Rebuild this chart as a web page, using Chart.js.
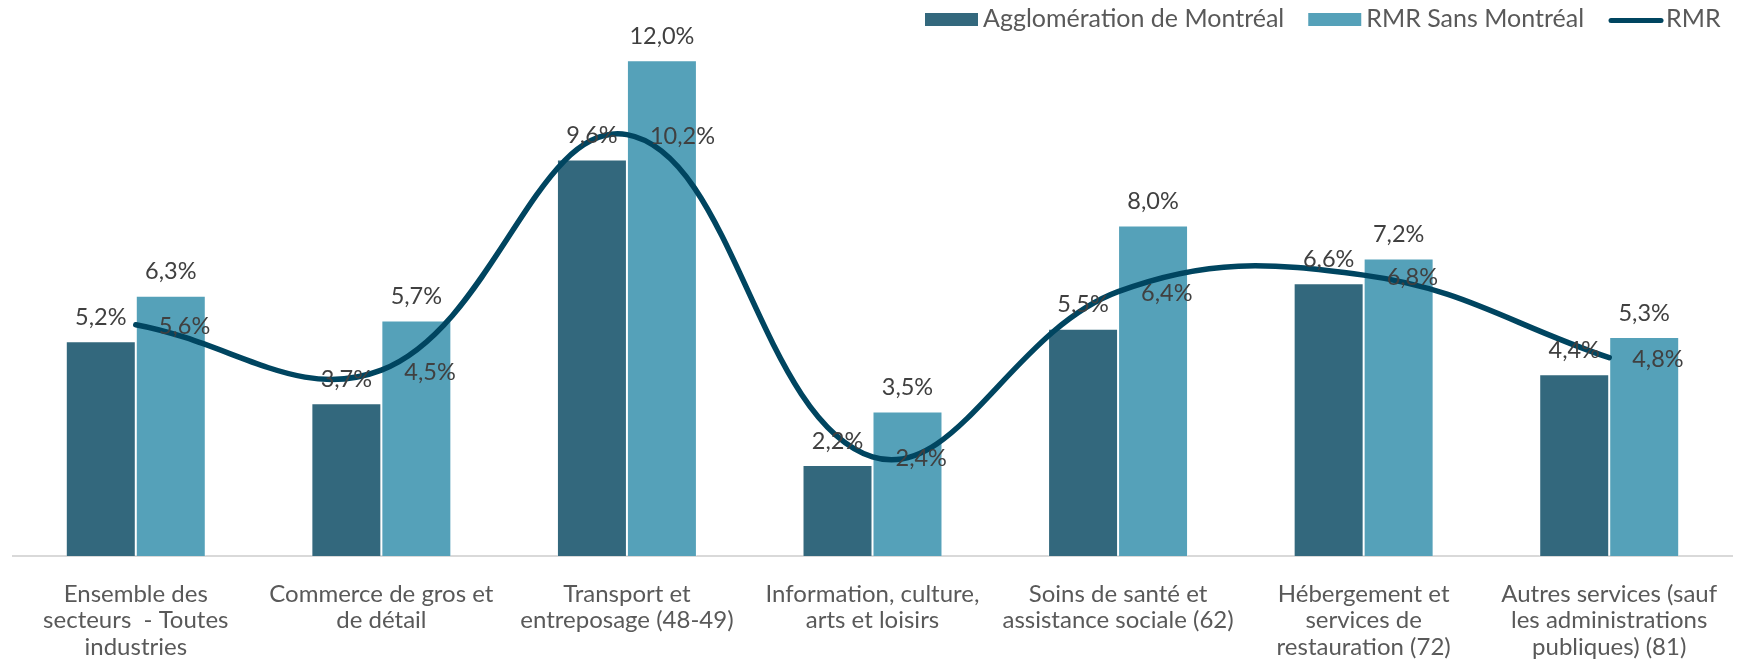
<!DOCTYPE html>
<html lang="fr">
<head>
<meta charset="UTF-8">
<title>Emploi par secteur - Montréal</title>
<script src="https://cdn.jsdelivr.net/npm/chart.js"></script>
<style>
  html, body { margin: 0; padding: 0; background: #fff; }
  #wrap { width: 1742px; height: 660px; position: relative; }
</style>
</head>
<body>
<div id="wrap"><canvas id="chart"></canvas></div>
<script>
// secteurs (libellés sur plusieurs lignes)
const categories = [
  ['Ensemble des', 'secteurs  - Toutes', 'industries'],
  ['Commerce de gros et', 'de détail'],
  ['Transport et', 'entreposage (48-49)'],
  ['Information, culture,', 'arts et loisirs'],
  ['Soins de santé et', 'assistance sociale (62)'],
  ['Hébergement et', 'services de', 'restauration (72)'],
  ['Autres services (sauf', 'les administrations', 'publiques) (81)']
];
const seriesNames = ['Agglomération de Montréal', 'RMR Sans Montréal', 'RMR'];
const agglo = [5.2, 3.7, 9.6, 2.2, 5.5, 6.6, 4.4];
const rmrSansMtl = [6.3, 5.7, 12.0, 3.5, 8.0, 7.2, 5.3];
const rmr = [5.6, 4.5, 10.2, 2.4, 6.4, 6.8, 4.8];

const colors = ['#33687d', '#55a1b9', '#004560'];
const FONT = 'Lato, "Liberation Sans", sans-serif';

const fmt = v => v.toFixed(1).replace('.', ',') + '%';

// étiquettes de valeur : au-dessus des barres, à droite des points de la courbe
const valueLabels = {
  id: 'valueLabels',
  afterDatasetsDraw(chart) {
    const ctx = chart.ctx;
    ctx.save();
    ctx.font = '23.5px ' + FONT;
    ctx.fillStyle = '#404040';
    ctx.textBaseline = 'middle';
    chart.data.datasets.forEach((ds, i) => {
      const meta = chart.getDatasetMeta(i);
      meta.data.forEach((el, j) => {
        const txt = fmt(ds.data[j]);
        if (meta.type === 'line') {
          ctx.textAlign = 'left';
          ctx.fillText(txt, el.x + 23, el.y + 2);
        } else {
          ctx.textAlign = 'center';
          ctx.fillText(txt, el.x, el.y - 24);
        }
      });
    });
    ctx.restore();
  }
};

// légende en haut à droite, dans l'ordre des séries
const topLegend = {
  id: 'topLegend',
  afterDraw(chart) {
    const ctx = chart.ctx;
    ctx.save();
    ctx.font = '25px ' + FONT;
    ctx.textBaseline = 'alphabetic';
    ctx.textAlign = 'left';
    let x = 925;
    chart.data.datasets.forEach(ds => {
      if (ds.type === 'line') {
        ctx.strokeStyle = ds.borderColor;
        ctx.lineWidth = 5;
        ctx.lineCap = 'round';
        ctx.beginPath();
        ctx.moveTo(x + 3, 20.5);
        ctx.lineTo(x + 53, 20.5);
        ctx.stroke();
      } else {
        ctx.fillStyle = ds.backgroundColor;
        ctx.fillRect(x, 13, 53, 13);
      }
      x += 58;
      ctx.fillStyle = '#595959';
      ctx.fillText(ds.label, x, 27);
      x += ctx.measureText(ds.label).width + 24;
    });
    ctx.restore();
  }
};

new Chart(document.getElementById('chart'), {
  type: 'bar',
  data: {
    labels: categories,
    datasets: [
      {
        label: seriesNames[0],
        data: agglo,
        backgroundColor: colors[0],
        borderColor: 'rgba(255,255,255,0.35)',
        borderWidth: 1,
        order: 1
      },
      {
        label: seriesNames[1],
        data: rmrSansMtl,
        backgroundColor: colors[1],
        borderColor: 'rgba(255,255,255,0.35)',
        borderWidth: 1,
        order: 1
      },
      {
        type: 'line',
        label: seriesNames[2],
        data: rmr,
        borderColor: colors[2],
        borderWidth: 5.5,
        borderCapStyle: 'round',
        tension: 0.4,
        pointRadius: 0,
        fill: false,
        order: 0
      }
    ]
  },
  options: {
    responsive: true,
    maintainAspectRatio: false,
    animation: false,
    datasets: {
      bar: { barPercentage: 1.0, categoryPercentage: 0.57 }
    },
    layout: { padding: { top: 19, left: 13, right: 10, bottom: 0 } },
    plugins: {
      legend: { display: false },
      tooltip: { enabled: false }
    },
    scales: {
      x: {
        grid: { display: false },
        border: { color: '#d9d9d9', width: 2 },
        ticks: {
          color: '#595959',
          font: { family: FONT, size: 24, lineHeight: 1.1 },
          padding: 17,
          maxRotation: 0,
          autoSkip: false
        },
        afterFit(scale) { scale.height = 104; }
      },
      y: {
        display: false,
        min: 0,
        max: 13
      }
    }
  },
  plugins: [valueLabels, topLegend]
});
</script>
</body>
</html>
